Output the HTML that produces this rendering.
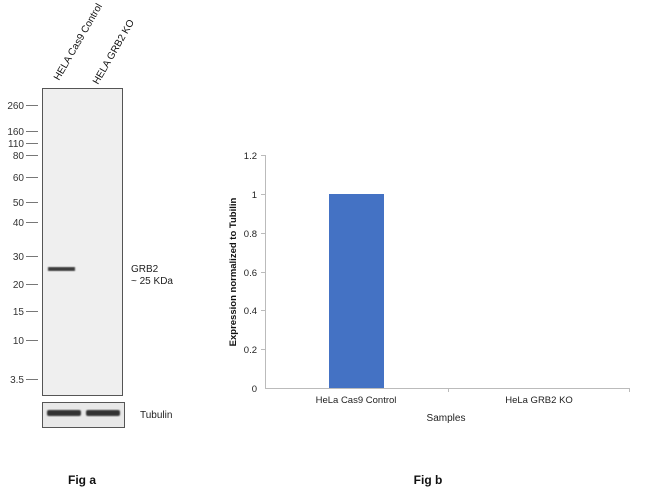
<!DOCTYPE html>
<html><head><style>
body{margin:0;background:#fff;width:650px;height:495px;overflow:hidden;font-family:"Liberation Sans",sans-serif;}
</style></head><body>
<svg width="650" height="495" xmlns="http://www.w3.org/2000/svg" font-family="Liberation Sans, sans-serif">
<defs><filter id="b"><feGaussianBlur stdDeviation="0.9"/></filter></defs>
<!-- blot -->
<rect x="42.5" y="88.5" width="80" height="307" fill="#efefef" stroke="#555" stroke-width="1"/>
<rect x="48" y="267" width="27" height="4" fill="#3a3a3a" filter="url(#b)"/>
<text transform="translate(59,81) rotate(-60)" font-size="10" fill="#111">HELA Cas9 Control</text>
<text transform="translate(98,85) rotate(-60)" font-size="10" fill="#111">HELA GRB2 KO</text>
<g font-size="10" fill="#333" text-anchor="end">
<text x="24" y="109">260</text><text x="24" y="135">160</text><text x="24" y="147">110</text><text x="24" y="159">80</text>
<text x="24" y="181">60</text><text x="24" y="206">50</text><text x="24" y="226">40</text><text x="24" y="260">30</text>
<text x="24" y="288">20</text><text x="24" y="315">15</text><text x="24" y="344">10</text><text x="24" y="383">3.5</text>
</g>
<g stroke="#777" stroke-width="1">
<line x1="26" x2="38" y1="105.5" y2="105.5"/><line x1="26" x2="38" y1="131.5" y2="131.5"/><line x1="26" x2="38" y1="143.5" y2="143.5"/>
<line x1="26" x2="38" y1="155.5" y2="155.5"/><line x1="26" x2="38" y1="177.5" y2="177.5"/><line x1="26" x2="38" y1="202.5" y2="202.5"/>
<line x1="26" x2="38" y1="222.5" y2="222.5"/><line x1="26" x2="38" y1="256.5" y2="256.5"/><line x1="26" x2="38" y1="284.5" y2="284.5"/>
<line x1="26" x2="38" y1="311.5" y2="311.5"/><line x1="26" x2="38" y1="340.5" y2="340.5"/><line x1="26" x2="38" y1="379.5" y2="379.5"/>
</g>
<text x="131" y="272" font-size="10" fill="#222">GRB2</text>
<text x="131" y="284" font-size="10" fill="#222">~ 25 KDa</text>
<rect x="42.5" y="402.5" width="82" height="25" fill="#e8e8e8" stroke="#555"/>
<rect x="47" y="410" width="34" height="6" rx="2" fill="#333" filter="url(#b)"/>
<rect x="86" y="410" width="34" height="6" rx="2" fill="#333" filter="url(#b)"/>
<text x="140" y="418" font-size="10" fill="#222">Tubulin</text>
<text x="82" y="484" font-size="12" font-weight="bold" fill="#111" text-anchor="middle">Fig a</text>
<!-- chart -->
<g stroke="#bbb" stroke-width="1">
<line x1="265.5" x2="265.5" y1="155" y2="388"/>
<line x1="265" x2="630" y1="388.5" y2="388.5"/>
<line x1="261" x2="265" y1="155.5" y2="155.5"/><line x1="261" x2="265" y1="194.5" y2="194.5"/>
<line x1="261" x2="265" y1="233.5" y2="233.5"/><line x1="261" x2="265" y1="272.5" y2="272.5"/>
<line x1="261" x2="265" y1="310.5" y2="310.5"/><line x1="261" x2="265" y1="349.5" y2="349.5"/>
<line x1="448.5" x2="448.5" y1="388" y2="392"/><line x1="629.5" x2="629.5" y1="388" y2="392"/>
</g>
<rect x="329" y="194" width="55" height="194" fill="#4472c4"/>
<g font-size="9.5" fill="#222" text-anchor="end">
<text x="257" y="159">1.2</text><text x="257" y="198">1</text><text x="257" y="237">0.8</text>
<text x="257" y="276">0.6</text><text x="257" y="314">0.4</text><text x="257" y="353">0.2</text><text x="257" y="392">0</text>
</g>
<text x="356" y="403" font-size="9.5" fill="#222" text-anchor="middle">HeLa Cas9 Control</text>
<text x="539" y="403" font-size="9.5" fill="#222" text-anchor="middle">HeLa GRB2 KO</text>
<text x="446" y="421" font-size="10" fill="#222" text-anchor="middle">Samples</text>
<text transform="translate(236,272) rotate(-90)" font-size="9.5" font-weight="bold" fill="#111" text-anchor="middle">Expression  normalized to Tubilin</text>
<text x="428" y="484" font-size="12" font-weight="bold" fill="#111" text-anchor="middle">Fig b</text>
</svg>
</body></html>
